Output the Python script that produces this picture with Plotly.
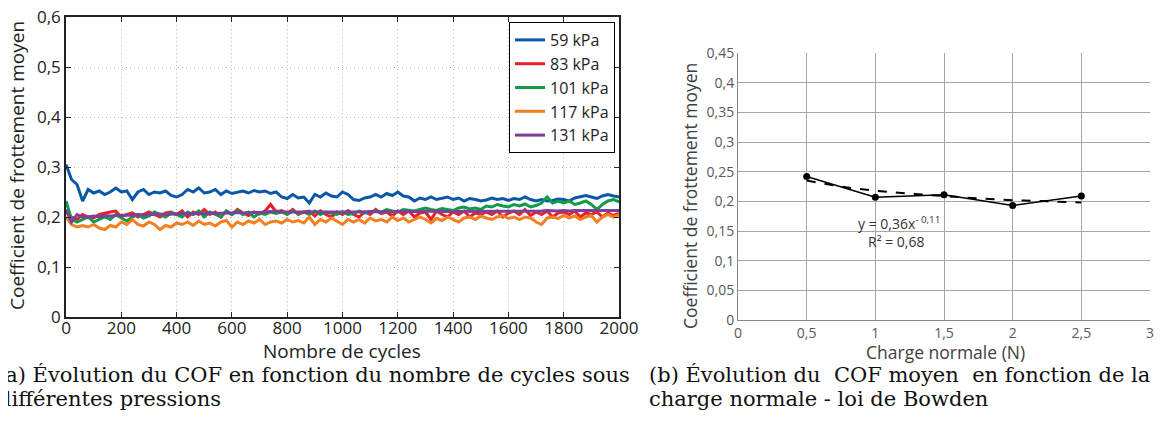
import plotly.graph_objects as go

# ---------------- data: panel (a) ----------------
cycles = list(range(0, 2001, 20))

cof_59 = [0.305, 0.275, 0.265, 0.232, 0.255, 0.248, 0.252, 0.245, 0.250, 0.258,
          0.250, 0.252, 0.235, 0.250, 0.255, 0.245, 0.250, 0.248, 0.252, 0.243,
          0.240, 0.245, 0.255, 0.250, 0.258, 0.248, 0.250, 0.255, 0.245, 0.252,
          0.247, 0.250, 0.252, 0.248, 0.253, 0.250, 0.252, 0.247, 0.250, 0.240,
          0.237, 0.245, 0.238, 0.240, 0.228, 0.245, 0.240, 0.248, 0.242, 0.240,
          0.250, 0.245, 0.235, 0.233, 0.238, 0.240, 0.245, 0.240, 0.247, 0.243,
          0.250, 0.242, 0.240, 0.232, 0.238, 0.235, 0.240, 0.235, 0.237, 0.240,
          0.235, 0.238, 0.232, 0.237, 0.235, 0.232, 0.234, 0.238, 0.235, 0.237,
          0.233, 0.237, 0.235, 0.240, 0.235, 0.232, 0.235, 0.232, 0.233, 0.236,
          0.235, 0.232, 0.238, 0.240, 0.243, 0.240, 0.237, 0.242, 0.245, 0.242,
          0.240]

cof_83 = [0.210, 0.200, 0.195, 0.205, 0.200, 0.198, 0.205, 0.208, 0.210, 0.212,
          0.200, 0.205, 0.208, 0.200, 0.205, 0.210, 0.205, 0.200, 0.208, 0.210,
          0.205, 0.212, 0.200, 0.210, 0.205, 0.215, 0.205, 0.210, 0.200, 0.212,
          0.205, 0.215, 0.208, 0.203, 0.210, 0.206, 0.212, 0.225, 0.210, 0.213,
          0.207, 0.215, 0.205, 0.210, 0.212, 0.202, 0.212, 0.205, 0.200, 0.210,
          0.205, 0.213, 0.205, 0.200, 0.210, 0.205, 0.215, 0.207, 0.210, 0.202,
          0.212, 0.205, 0.212, 0.200, 0.208, 0.210, 0.195, 0.212, 0.205, 0.200,
          0.210, 0.205, 0.212, 0.200, 0.208, 0.205, 0.210, 0.205, 0.212, 0.200,
          0.208, 0.212, 0.205, 0.215, 0.203, 0.210, 0.205, 0.212, 0.200, 0.208,
          0.210, 0.205, 0.212, 0.200, 0.208, 0.205, 0.210, 0.200, 0.208, 0.203,
          0.207]

cof_101 = [0.232, 0.195, 0.190, 0.195, 0.200, 0.190, 0.195, 0.200, 0.195, 0.205,
           0.198, 0.192, 0.200, 0.205, 0.198, 0.202, 0.210, 0.205, 0.200, 0.208,
           0.205, 0.200, 0.210, 0.205, 0.212, 0.200, 0.210, 0.205, 0.200, 0.212,
           0.205, 0.213, 0.205, 0.210, 0.200, 0.208, 0.205, 0.210, 0.207, 0.210,
           0.205, 0.212, 0.207, 0.210, 0.205, 0.212, 0.205, 0.210, 0.208, 0.205,
           0.210, 0.205, 0.207, 0.212, 0.208, 0.210, 0.212, 0.210, 0.215, 0.212,
           0.210, 0.215, 0.213, 0.212, 0.215, 0.218, 0.215, 0.213, 0.217, 0.215,
           0.213, 0.218, 0.220, 0.216, 0.218, 0.215, 0.222, 0.220, 0.225, 0.222,
           0.220, 0.225, 0.222, 0.226, 0.220, 0.223, 0.228, 0.240, 0.228, 0.232,
           0.228, 0.232, 0.225, 0.228, 0.232, 0.225, 0.215, 0.225, 0.232, 0.235,
           0.230]

cof_117 = [0.200, 0.185, 0.180, 0.183, 0.180, 0.185, 0.178, 0.175, 0.183, 0.180,
           0.190, 0.185, 0.195, 0.185, 0.182, 0.190, 0.185, 0.175, 0.183, 0.180,
           0.188, 0.185, 0.190, 0.183, 0.192, 0.185, 0.188, 0.182, 0.190, 0.193,
           0.180, 0.190, 0.185, 0.192, 0.188, 0.195, 0.185, 0.190, 0.192, 0.188,
           0.195, 0.190, 0.193, 0.188, 0.200, 0.185, 0.195, 0.190, 0.198, 0.192,
           0.185, 0.195, 0.190, 0.195, 0.188, 0.198, 0.192, 0.195, 0.190, 0.200,
           0.193, 0.198, 0.190, 0.195, 0.200, 0.195, 0.188, 0.197, 0.193, 0.200,
           0.195, 0.190, 0.198, 0.200, 0.195, 0.202, 0.198, 0.195, 0.200, 0.203,
           0.197, 0.200, 0.195, 0.200, 0.198, 0.190, 0.185, 0.198, 0.200, 0.197,
           0.203, 0.198, 0.202, 0.195, 0.200, 0.203, 0.190, 0.200, 0.205, 0.200,
           0.205]

cof_131 = [0.215, 0.190, 0.205, 0.200, 0.200, 0.202, 0.200, 0.203, 0.202, 0.203,
           0.203, 0.204, 0.203, 0.205, 0.204, 0.205, 0.205, 0.206, 0.205, 0.206,
           0.206, 0.207, 0.206, 0.207, 0.207, 0.207, 0.208, 0.207, 0.208, 0.208,
           0.208, 0.209, 0.208, 0.209, 0.209, 0.209, 0.210, 0.210, 0.212, 0.210,
           0.210, 0.210, 0.209, 0.210, 0.210, 0.209, 0.210, 0.210, 0.209, 0.210,
           0.210, 0.210, 0.209, 0.210, 0.210, 0.211, 0.210, 0.210, 0.211, 0.210,
           0.211, 0.211, 0.210, 0.211, 0.211, 0.211, 0.212, 0.211, 0.211, 0.211,
           0.211, 0.211, 0.212, 0.211, 0.211, 0.212, 0.211, 0.212, 0.212, 0.211,
           0.212, 0.212, 0.212, 0.211, 0.212, 0.212, 0.212, 0.213, 0.212, 0.212,
           0.213, 0.212, 0.213, 0.213, 0.212, 0.213, 0.213, 0.213, 0.212, 0.213,
           0.213]

series_names = ["59 kPa", "83 kPa", "101 kPa", "117 kPa", "131 kPa"]
series_vals = [cof_59, cof_83, cof_101, cof_117, cof_131]
series_colors = ["#0a57a8", "#e8202a", "#0f9b48", "#f47f20", "#7d3f98"]

a_xticks = [0, 200, 400, 600, 800, 1000, 1200, 1400, 1600, 1800, 2000]
a_xticktext = ["0", "200", "400", "600", "800", "1000", "1200", "1400", "1600", "1800", "2000"]
a_yticks = [0, 0.1, 0.2, 0.3, 0.4, 0.5, 0.6]
a_yticktext = ["0", "0,1", "0,2", "0,3", "0,4", "0,5", "0,6"]

# ---------------- data: panel (b) ----------------
charge = [0.5, 1.0, 1.5, 2.0, 2.5]
cof_moyen = [0.242, 0.207, 0.211, 0.193, 0.209]
trend_x = [0.5, 0.75, 1.0, 1.25, 1.5, 1.75, 2.0, 2.25, 2.5]
trend_y = [0.235, 0.225, 0.218, 0.213, 0.209, 0.205, 0.202, 0.200, 0.198]

b_xticks = [0, 0.5, 1, 1.5, 2, 2.5, 3]
b_xticktext = ["0", "0,5", "1", "1,5", "2", "2,5", "3"]
b_yticks = [0, 0.05, 0.1, 0.15, 0.2, 0.25, 0.3, 0.35, 0.4, 0.45]
b_yticktext = ["0", "0,05", "0,1", "0,15", "0,2", "0,25", "0,3", "0,35", "0,4", "0,45"]

# the page body keeps an 8 px margin on every side
OFF = 8
W, H = 1163 - 2 * OFF, 432 - 2 * OFF
fig = go.Figure()

for name, vals, col in zip(series_names, series_vals, series_colors):
    fig.add_trace(go.Scatter(x=cycles, y=vals, name=name, mode="lines",
                             line=dict(color=col, width=3),
                             xaxis="x", yaxis="y"))

fig.add_trace(go.Scatter(x=trend_x, y=trend_y, mode="lines", showlegend=False,
                         line=dict(color="black", width=2, dash="dash", shape="spline"),
                         xaxis="x2", yaxis="y2"))
fig.add_trace(go.Scatter(x=charge, y=cof_moyen, mode="lines+markers", showlegend=False,
                         line=dict(color="black", width=1.6),
                         marker=dict(color="black", size=7),
                         xaxis="x2", yaxis="y2"))

sans_a = "Open Sans"
sans_b = "Open Sans"
ink_a = "#222"
ink_b = "#404040"


def px(x):
    return (x - OFF) / W


def py(y):
    return 1 - (y - OFF) / H


fig.update_layout(
    template="none",
    width=W, height=H,
    margin=dict(l=0, r=0, t=0, b=0, autoexpand=False),
    paper_bgcolor="white", plot_bgcolor="white",
    showlegend=True,
    legend=dict(x=px(615), y=py(22), xanchor="right", yanchor="top",
                bgcolor="white", bordercolor="black", borderwidth=1,
                font=dict(family=sans_a, size=16, color=ink_a),
                tracegroupgap=0, itemwidth=30),
    xaxis=dict(domain=[px(66), px(619)], range=[0, 2000], automargin=False,
               tickvals=a_xticks, ticktext=a_xticktext, ticklabeloverflow="allow",
               showgrid=True, gridcolor="#bdbdbd", griddash="1px,3px", gridwidth=1,
               showline=True, linecolor=ink_a, linewidth=1.5, mirror="ticks",
               ticks="inside", ticklen=5, tickcolor=ink_a, ticklabelstandoff=-5,
               tickfont=dict(family=sans_a, size=17, color=ink_a),
               zeroline=False, anchor="y"),
    yaxis=dict(domain=[py(317), py(17)], range=[0, 0.6], automargin=False,
               tickvals=a_yticks, ticktext=a_yticktext, ticklabeloverflow="allow",
               showgrid=True, gridcolor="#bdbdbd", griddash="1px,3px", gridwidth=1,
               showline=True, linecolor=ink_a, linewidth=1.5, mirror="ticks",
               ticks="inside", ticklen=5, tickcolor=ink_a,
               tickfont=dict(family=sans_a, size=17, color=ink_a),
               zeroline=False, anchor="x"),
    xaxis2=dict(domain=[px(738), px(1150)], range=[0, 3], automargin=False,
                tickvals=b_xticks, ticktext=b_xticktext, ticklabeloverflow="allow",
                showgrid=True, gridcolor="#a6a6a6", gridwidth=1,
                showline=True, linecolor="#868686", linewidth=1,
                ticks="", zeroline=False,
                tickfont=dict(family=sans_b, size=14, color="#595959"),
                anchor="y2"),
    yaxis2=dict(domain=[py(320), py(53)], range=[0, 0.45], automargin=False,
                tickvals=b_yticks, ticktext=b_yticktext, ticklabeloverflow="allow",
                showgrid=True, gridcolor="#a6a6a6", gridwidth=1,
                showline=True, linecolor="#868686", linewidth=1,
                ticks="", zeroline=False,
                tickfont=dict(family=sans_b, size=14, color="#595959"),
                anchor="x2"),
)

# axis titles
fig.add_annotation(xref="paper", yref="paper", x=px(342), y=py(351), showarrow=False,
                   xanchor="center", yanchor="middle", text="Nombre de cycles",
                   font=dict(family=sans_a, size=19, color=ink_a))
fig.add_annotation(xref="paper", yref="paper", x=px(17), y=py(166), showarrow=False,
                   xanchor="center", yanchor="middle", textangle=-90,
                   text="Coefficient de frottement moyen",
                   font=dict(family=sans_a, size=19, color=ink_a))
fig.add_annotation(xref="paper", yref="paper", x=px(945), y=py(352), showarrow=False,
                   xanchor="center", yanchor="middle", text="Charge normale (N)",
                   font=dict(family=sans_b, size=17.5, color=ink_b))
fig.add_annotation(xref="paper", yref="paper", x=px(690), y=py(196), showarrow=False,
                   xanchor="center", yanchor="middle", textangle=-90,
                   text="Coefficient de frottement moyen",
                   font=dict(family=sans_b, size=17.5, color=ink_b))

# trend-line equation (panel b)
fig.add_annotation(xref="x2", yref="y2", x=1.17, y=0.1635, showarrow=False,
                   text="y = 0,36x<sup>- 0,11</sup>",
                   font=dict(family=sans_b, size=14, color="#333"))
fig.add_annotation(xref="x2", yref="y2", x=1.15, y=0.133, showarrow=False,
                   text="R² = 0,68",
                   font=dict(family=sans_b, size=14, color="#333"))

# sub-figure captions (line 1 of (b) is justified in the original, hence a few wider gaps)
serif = "DejaVu Serif"
cap = dict(family=serif, size=21, color="#111")
fig.add_annotation(xref="paper", yref="paper", x=px(-5), y=py(375), xanchor="left",
                   yanchor="middle", showarrow=False,
                   text="(a) Évolution du COF en fonction du nombre de cycles sous", font=cap)
fig.add_annotation(xref="paper", yref="paper", x=px(-4), y=py(399), xanchor="left",
                   yanchor="middle", showarrow=False,
                   text="différentes pressions", font=cap)
fig.add_annotation(xref="paper", yref="paper", x=px(647), y=py(375), xanchor="left",
                   yanchor="middle", showarrow=False,
                   text="(b) Évolution du  COF moyen  en fonction de la", font=cap)
fig.add_annotation(xref="paper", yref="paper", x=px(647), y=py(399), xanchor="left",
                   yanchor="middle", showarrow=False,
                   text="charge normale - loi de Bowden", font=cap)

fig.write_html("out.html")
